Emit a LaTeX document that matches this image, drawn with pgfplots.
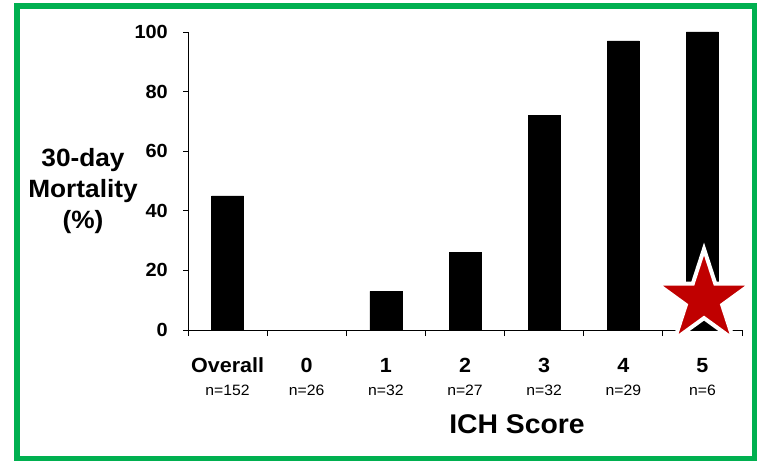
\documentclass[border=0pt]{standalone}
\usepackage{pgfplots}
\pgfplotsset{compat=1.18}
\usepackage{fontspec}
\setmainfont{Liberation Sans}[FakeStretch=1.05]
\usetikzlibrary{shapes.geometric}
\definecolor{framegreen}{HTML}{00B050}
\definecolor{starred}{HTML}{C00000}
\begin{document}
\begin{tikzpicture}[x=1pt,y=1pt]
\path[use as bounding box] (0,0) rectangle (759,460);
\fill[white] (0,0) rectangle (759,460);
\begin{axis}[
  at={(188pt,130pt)}, anchor=south west,
  scale only axis, width=554pt, height=298pt,
  xmin=-0.5, xmax=6.5, ymin=0, ymax=100,
  axis x line*=bottom, axis y line*=left,
  axis line style={line width=0.9pt, black},
  clip=false,
  major tick length=5pt,
  minor tick length=6pt,
  tick align=outside,
  ytick={0,20,40,60,80,100},
  major y tick style={line width=0.9pt, black},
  yticklabel style={font=\bfseries\fontsize{19}{22}\selectfont, inner sep=0pt, xshift=-15pt},
  /pgf/number format/assume math mode=true,
  xtick={0,1,2,3,4,5,6},
  xticklabels={Overall,0,1,2,3,4,5},
  major x tick style={draw=none},
  minor xtick={-0.5,0.5,1.5,2.5,3.5,4.5,5.5,6.5},
  minor x tick style={line width=0.9pt, black},
  xticklabel style={font=\bfseries\fontsize{20.5}{24}\selectfont, anchor=base, yshift=-37pt},
  extra x ticks={0,1,2,3,4,5,6},
  extra x tick labels={n=152,n=26,n=32,n=27,n=32,n=29,n=6},
  extra x tick style={major x tick style={draw=none}, xticklabel style={font=\mdseries\fontsize{15}{18}\selectfont, anchor=base, yshift=-23pt}},
  ybar, bar width=32pt,
]
\addplot[fill=black, draw=black, line width=0.4pt] coordinates {(0,45) (1,0) (2,13) (3,26) (4,72) (5,97) (6,100)};
\node[star, star points=5, star point ratio=2.618, minimum size=100pt, inner sep=0pt, fill=starred, draw=white, line width=4pt] at (axis cs:6.02,10.4) {};
\end{axis}
\node[anchor=base, font=\bfseries\fontsize{25}{30}\selectfont] at (83,293) {30-day};
\node[anchor=base, font=\bfseries\fontsize{25}{30}\selectfont] at (83,262) {Mortality};
\node[anchor=base, font=\bfseries\fontsize{25}{30}\selectfont] at (83,231) {(\%)};
\node[anchor=base, font=\bfseries\fontsize{27}{32}\selectfont] at (517,27) {ICH Score};
\draw[framegreen, line width=5.5pt] (17,1.5) rectangle (754.5,454);
\end{tikzpicture}
\end{document}
